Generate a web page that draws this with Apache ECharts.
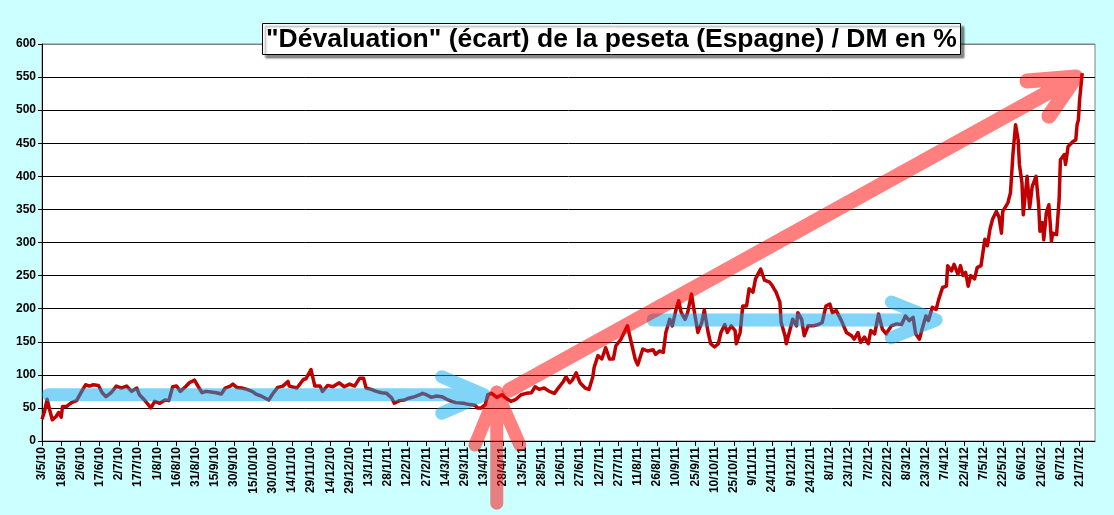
<!DOCTYPE html>
<html>
<head>
<meta charset="utf-8">
<title>Dévaluation de la peseta / DM</title>
<script src="https://cdn.jsdelivr.net/npm/echarts@6/dist/echarts.min.js"></script>
<style>
  html, body { margin: 0; padding: 0; background: #CCFFFF; }
  #chart { width: 1114px; height: 515px; }
</style>
</head>
<body>
<div id="chart"></div>
<script>
// ==============================
// données
// ==============================

// jours écoulés depuis le 3/5/2010
const dayOffsets = [
  0, 2, 4, 6, 8, 11, 13, 15, 16, 19, 23, 27, 31, 34, 37, 40, 44, 47, 50, 54,
  58, 62, 66, 70, 74, 76, 80, 85, 88, 92, 96, 99, 102, 105, 108, 112, 115, 119, 122, 125,
  128, 132, 136, 140, 143, 147, 149, 152, 156, 160, 164, 167, 171, 177, 180, 184, 188, 192, 193, 199,
  204, 206, 210, 213, 217, 219, 223, 227, 232, 236, 240, 244, 248, 251, 253, 257, 261, 265, 269, 273,
  275, 279, 283, 287, 291, 295, 297, 300, 304, 308, 312, 316, 320, 323, 329, 334, 338, 340, 343, 346,
  348, 351, 355, 359, 362, 366, 370, 374, 378, 382, 385, 388, 392, 396, 400, 403, 407, 409, 412, 414,
  417, 420, 424, 427, 430, 431, 434, 437, 440, 443, 446, 448, 452, 457, 460, 463, 465, 469, 473, 477,
  479, 482, 485, 487, 490, 492, 495, 497, 499, 502, 504, 507, 509, 512, 515, 517, 520, 522, 525, 528,
  530, 533, 535, 538, 541, 542, 545, 547, 550, 552, 555, 557, 561, 564, 568, 570, 573, 576, 577, 580,
  581, 584, 586, 589, 590, 593, 595, 598, 602, 606, 609, 612, 615, 617, 620, 624, 628, 632, 634, 637,
  639, 642, 645, 647, 650, 653, 656, 659, 663, 667, 671, 674, 677, 680, 682, 685, 687, 690, 692, 695,
  698, 700, 703, 706, 707, 710, 712, 715, 717, 719, 721, 723, 725, 728, 730, 733, 736, 738, 740, 742,
  745, 747, 749, 750, 754, 756, 758, 760, 762, 763, 765, 766, 768, 769, 771, 773, 776, 778, 779, 781,
  782, 784, 786, 788, 789, 792, 794, 795, 798, 799, 801, 805, 807, 808, 809, 810, 812
];

// écart en %
const ecartValues = [
  33, 45, 63, 47, 32, 37, 43, 36, 52, 52, 58, 61, 75, 85, 83, 85, 84, 73, 67, 73,
  83, 80, 83, 75, 80, 70, 62, 50, 60, 57, 62, 61, 82, 83, 75, 82, 88, 92, 82, 73,
  75, 74, 73, 71, 80, 83, 86, 81, 80, 78, 75, 71, 68, 62, 71, 81, 83, 90, 83, 80,
  93, 94, 108, 83, 83, 75, 84, 82, 88, 82, 86, 83, 95, 95, 80, 78, 75, 73, 72, 65,
  57, 61, 62, 65, 67, 70, 72, 70, 66, 68, 67, 63, 60, 58, 57, 55, 54, 50, 50, 55,
  70, 72, 66, 70, 65, 60, 63, 70, 72, 73, 82, 78, 80, 75, 72, 80, 90, 97, 88, 92,
  103, 88, 80, 78, 97, 111, 129, 124, 141, 124, 124, 144, 154, 174, 149, 124, 115, 139, 136, 138,
  131, 136, 134, 164, 184, 174, 199, 212, 194, 184, 194, 222, 198, 164, 179, 198, 164, 147, 142, 147,
  164, 176, 164, 174, 167, 147, 164, 204, 204, 230, 225, 245, 260, 243, 240, 235, 225, 210, 179, 159,
  147, 169, 184, 174, 194, 184, 159, 174, 174, 176, 179, 204, 207, 194, 197, 182, 164, 159, 154, 164,
  149, 157, 147, 167, 162, 192, 169, 162, 174, 177, 176, 189, 182, 187, 162, 154, 169, 189, 182, 202,
  199, 214, 232, 234, 265, 257, 267, 252, 265, 250, 255, 234, 250, 245, 262, 265, 305, 295, 320, 335,
  347, 339, 314, 347, 360, 375, 435, 478, 455, 418, 390, 342, 380, 400, 352, 385, 400, 357, 317, 330,
  304, 345, 357, 302, 314, 312, 365, 425, 433, 418, 445, 453, 455, 478, 485, 516, 556
];

const startDate = Date.UTC(2010, 4, 3);
const yTicks = { min: 0, max: 600, step: 50 };
const xTicks = { min: 0, max: 822, step: 15 };

// flèches dessinées sur le graphique : [jour, valeur]
const blueArrowA = [[5, 70], [345, 70], [312, 97], [345, 70], [312, 42]];
const blueArrowB = [[477, 183], [698, 183], [663, 210], [698, 183], [663, 156]];
const redArrowUp = [[355, -94], [355, 74], [338, -6], [355, 74], [373, -6]];
const redArrowDiag = [[365, 77], [807, 550], [769, 544], [807, 550], [786, 491]];

// ==============================
// graphique
// ==============================

const chart = echarts.init(document.getElementById('chart'));

function dateLabel(v) {
  if (v % 15 !== 0) return '';
  const d = new Date(startDate + v * 86400000);
  return d.getUTCDate() + '/' + (d.getUTCMonth() + 1) + '/' + String(d.getUTCFullYear()).slice(2);
}

function arrowSeries(points, color, width) {
  return {
    type: 'line',
    data: points,
    symbol: 'none',
    silent: true,
    clip: false,
    z: 5,
    lineStyle: { color: color, width: width, cap: 'round', join: 'round' },
    animation: false
  };
}

const gridColors = [];
for (let v = yTicks.min; v <= yTicks.max; v += yTicks.step) {
  gridColors.push(v === yTicks.max ? '#808080' : '#000000');
}

chart.setOption({
  backgroundColor: '#CCFFFF',
  animation: false,
  title: {
    text: '"Dévaluation" (écart) de la peseta (Espagne) / DM en %',
    left: 262,
    top: 23,
    padding: [3, 4, 2, 4],
    backgroundColor: '#fff',
    borderColor: '#000',
    borderWidth: 1,
    shadowColor: 'rgba(0,0,0,0.45)',
    shadowBlur: 2,
    shadowOffsetX: 3,
    shadowOffsetY: 3,
    textStyle: {
      fontFamily: 'Liberation Sans',
      fontSize: 26.5,
      fontWeight: 'bold',
      color: '#000'
    }
  },
  grid: {
    left: 42,
    right: 19,
    top: 44,
    bottom: 74,
    show: true,
    backgroundColor: '#fff',
    borderColor: '#808080',
    borderWidth: 1
  },
  xAxis: {
    type: 'value',
    min: xTicks.min,
    max: xTicks.max,
    interval: xTicks.step,
    axisLine: { show: true, lineStyle: { color: '#000', width: 1 } },
    axisTick: { show: true, length: 5, lineStyle: { color: '#000' } },
    splitLine: { show: false },
    axisLabel: {
      rotate: 90,
      margin: 6,
      showMaxLabel: false,
      color: '#000',
      fontFamily: 'Liberation Sans',
      fontWeight: 'bold',
      fontSize: 12,
      formatter: dateLabel
    }
  },
  yAxis: {
    type: 'value',
    min: yTicks.min,
    max: yTicks.max,
    interval: yTicks.step,
    axisLine: { show: true, lineStyle: { color: '#000', width: 1 } },
    axisTick: { show: true, length: 4, lineStyle: { color: '#000' } },
    splitLine: { show: true, lineStyle: { color: gridColors, width: 1 } },
    axisLabel: {
      margin: 6,
      color: '#000',
      fontFamily: 'Liberation Sans',
      fontWeight: 'bold',
      fontSize: 12
    }
  },
  series: [
    {
      name: 'écart',
      type: 'line',
      data: dayOffsets.map((d, i) => [d, ecartValues[i]]),
      symbol: 'none',
      z: 3,
      lineStyle: { color: '#C00000', width: 3.5, join: 'round' }
    },
    arrowSeries(blueArrowA, 'rgba(0,170,240,0.5)', 13),
    arrowSeries(blueArrowB, 'rgba(0,170,240,0.5)', 13),
    arrowSeries(redArrowUp, 'rgba(255,0,0,0.5)', 13),
    arrowSeries(redArrowDiag, 'rgba(255,0,0,0.5)', 15)
  ]
});

window.addEventListener('resize', () => chart.resize());
</script>
</body>
</html>
